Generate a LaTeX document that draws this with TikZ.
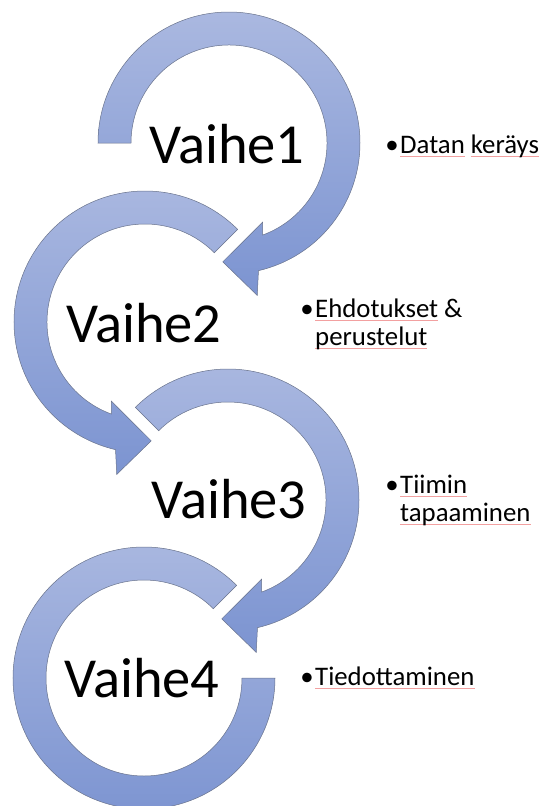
\documentclass[tikz,border=0pt]{standalone}
\usepackage{fontspec}
\setmainfont{Carlito}
\definecolor{ringtop}{RGB}{170,184,224}
\definecolor{ringbot}{RGB}{124,148,209}
\definecolor{ringline}{RGB}{105,115,140}
\definecolor{sqred}{RGB}{242,160,160}
\newcommand\sq[1]{\setbox0\hbox{#1}\rlap{\color{sqred}\rule[-3.5pt]{\wd0}{0.5pt}}\box0\relax}
\begin{document}
\begin{tikzpicture}[x=1pt,y=1pt,
  ring/.style={draw=ringline, line width=0.5pt, top color=ringtop, bottom color=ringbot},
  stage/.style={anchor=base west, inner sep=0pt, font=\fontsize{56.5}{60}\selectfont},
  bul/.style={anchor=base, inner sep=0pt, font=\fontsize{26.8}{28}\selectfont},
  item/.style={anchor=base west, inner sep=0pt, font=\fontsize{26.8}{28}\selectfont}]
\useasboundingbox (0,0) rectangle (543,-806);
% ring 1
\begin{scope}[shift={(229,-143)}]
\draw[ring] (180:131pt) arc[start angle=180, end angle=-77, radius=131pt]
  -- (-79.5:155pt) -- (-93:119pt) -- (-67:86pt) -- (-70:98pt)
  arc[start angle=-70, end angle=180, radius=98pt] -- cycle;
\end{scope}
% ring 2
\begin{scope}[shift={(145,-322)}]
\draw[ring] (45:131pt) arc[start angle=45, end angle=257, radius=131pt]
  -- (259.5:155pt) -- (273:119pt) -- (247:86pt) -- (250:98pt)
  arc[start angle=250, end angle=45, radius=98pt] -- cycle;
\end{scope}
% ring 3
\begin{scope}[shift={(228,-500)}]
\draw[ring] (135:131pt) arc[start angle=135, end angle=-77, radius=131pt]
  -- (-79.5:155pt) -- (-93:119pt) -- (-67:86pt) -- (-70:98pt)
  arc[start angle=-70, end angle=135, radius=98pt] -- cycle;
\end{scope}
% ring 4
\begin{scope}[shift={(144,-678)}]
\draw[ring] (45:131pt) arc[start angle=45, end angle=360, radius=131pt]
  -- (0:98pt) arc[start angle=360, end angle=45, radius=98pt] -- cycle;
\end{scope}
% stage labels
\node[stage] (v1) at (149,-163) {Vaihe1};
\node[stage] (v2) at (66,-342) {Vaihe2};
\node[stage] (v3) at (151,-518) {Vaihe3};
\node[stage] (v4) at (64,-697) {Vaihe4};
% bullets
\node[bul] (b1) at (392,-153) {•};
\node[item] (t1) at (400,-153) {\sq{Datan} \sq{keräys}};
\node[bul] (b2) at (307,-317) {•};
\node[item] (t2) at (315,-317) {\vtop{\hbox{\sq{Ehdotukset} \&}\hbox{\sq{perustelut}}}};
\node[bul] (b3) at (392,-493) {•};
\node[item] (t3) at (400,-493) {\vtop{\hbox{\sq{Tiimin}}\hbox{\sq{tapaaminen}}}};
\node[bul] (b4) at (307,-685) {•};
\node[item] (t4) at (315,-685) {\sq{Tiedottaminen}};
\end{tikzpicture}
\end{document}
